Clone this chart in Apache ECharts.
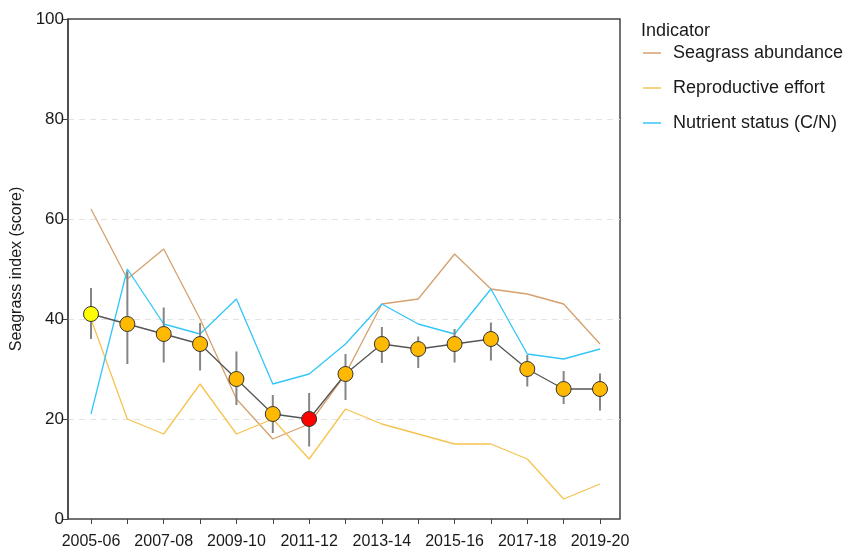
<!DOCTYPE html>
<html>
<head>
<meta charset="utf-8">
<script src="https://cdn.jsdelivr.net/npm/echarts@6/dist/echarts.min.js"></script>
<style>
  html, body { margin: 0; padding: 0; background: #fff; }
  #echarts-main { width: 849px; height: 551px; }
</style>
</head>
<body>
<div id="echarts-main"></div>
<script>
var years = ['2005-06', '2006-07', '2007-08', '2008-09', '2009-10', '2010-11', '2011-12', '2012-13',
	'2013-14', '2014-15', '2015-16', '2016-17', '2017-18', '2018-19', '2019-20'];
var indexScore = [41, 39, 37, 35, 28, 21, 20, 29, 35, 34, 35, 36, 30, 26, 26];
var indexLower = [36, 31, 31.3, 29.7, 22.8, 17.2, 14.5, 23.8, 31.2, 30.2, 31.3, 31.7, 26.5, 23, 21.7];
var indexUpper = [46.2, 49.5, 42.3, 39.2, 33.5, 24.8, 25.2, 33, 38.4, 36.5, 38, 39.3, 32.8, 29.6, 29.1];
var abundance = [62, 48, 54, 40, 24, 16, 19, 29, 43, 44, 53, 46, 45, 43, 35];
var reproductive = [40, 20, 17, 27, 17, 20, 12, 22, 19, 17, 15, 15, 12, 4, 7];
var nutrient = [21, 50, 39, 37, 44, 27, 29, 35, 43, 39, 37, 46, 33, 32, 34];
var yTicks = [0, 20, 40, 60, 80, 100];

var myChart = echarts.init(document.getElementById('echarts-main'));
var font = '"Liberation Sans", Arial, Helvetica, sans-serif';
var colors = ['#d6a06e', '#f6c350', '#33c6f8'];

// grade colour of the overall index marker
function gradeColor(v) {
	if (v > 40) return '#ffff00';
	if (v > 20) return '#ffb900';
	return '#ff0000';
}

var option = {
	animation: false,
	textStyle: { fontFamily: font },
	graphic: [{
		type: 'text',
		left: 641,
		top: 22,
		style: { text: 'Indicator', fontSize: 18, fontFamily: font, fill: '#1a1a1a' }
	}],
	legend: {
		orient: 'vertical',
		left: 643,
		top: 43,
		padding: 0,
		itemGap: 15,
		itemWidth: 18,
		itemHeight: 1.5,
		icon: 'rect',
		data: ['Seagrass abundance', 'Reproductive effort', 'Nutrient status (C/N)'],
		textStyle: { fontSize: 18, color: '#1a1a1a', fontFamily: font, padding: [0, 0, 0, 7], lineHeight: 20 }
	},
	grid: [
		{ left: 68, right: 229, top: 19, bottom: 32, show: true, borderColor: '#444', borderWidth: 1.5 },
		{ left: 91, right: 249, top: 19, bottom: 32 }
	],
	xAxis: [
		{ gridIndex: 0, type: 'value', min: 0, max: 1, show: false },
		{
			gridIndex: 1,
			type: 'category',
			boundaryGap: false,
			data: years,
			axisLine: { show: false },
			axisTick: { show: true, length: 5, interval: 0, lineStyle: { color: '#444' } },
			axisLabel: { interval: 1, fontSize: 16, color: '#1a1a1a', margin: 15, fontFamily: font }
		}
	],
	yAxis: [
		{
			gridIndex: 0,
			type: 'value',
			min: 0,
			max: 100,
			interval: 20,
			name: 'Seagrass index (score)',
			nameLocation: 'middle',
			nameGap: 38,
			nameTextStyle: { fontSize: 16, color: '#1a1a1a', fontFamily: font },
			axisLine: { show: true, lineStyle: { color: '#444', width: 1.5 } },
			axisTick: { show: true, length: 5, lineStyle: { color: '#444' } },
			axisLabel: { fontSize: 17, color: '#1a1a1a', margin: 4, fontFamily: font,
				formatter: function (v) { return yTicks.indexOf(v) >= 0 ? String(v) : ''; } },
			splitLine: { show: true, lineStyle: {
				color: ['rgba(0,0,0,0)', '#e3e3e3', '#e3e3e3', '#e3e3e3', '#e3e3e3', 'rgba(0,0,0,0)'],
				type: [6, 5], width: 1 } }
		},
		{ gridIndex: 1, type: 'value', min: 0, max: 100, show: false }
	],
	series: [
		{
			name: 'Seagrass abundance',
			type: 'line',
			xAxisIndex: 1, yAxisIndex: 1,
			data: abundance,
			symbol: 'none',
			lineStyle: { color: colors[0], width: 1.3 },
			itemStyle: { color: colors[0] },
			z: 2
		},
		{
			name: 'Reproductive effort',
			type: 'line',
			xAxisIndex: 1, yAxisIndex: 1,
			data: reproductive,
			symbol: 'none',
			lineStyle: { color: colors[1], width: 1.3 },
			itemStyle: { color: colors[1] },
			z: 2
		},
		{
			name: 'Nutrient status (C/N)',
			type: 'line',
			xAxisIndex: 1, yAxisIndex: 1,
			data: nutrient,
			symbol: 'none',
			lineStyle: { color: colors[2], width: 1.3 },
			itemStyle: { color: colors[2] },
			z: 2
		},
		{
			name: 'errors',
			type: 'custom',
			xAxisIndex: 1, yAxisIndex: 1,
			data: years.map(function (y, i) { return [i, indexLower[i], indexUpper[i]]; }),
			renderItem: function (params, api) {
				var lo = api.coord([api.value(0), api.value(1)]);
				var hi = api.coord([api.value(0), api.value(2)]);
				return {
					type: 'line',
					shape: { x1: lo[0], y1: lo[1], x2: hi[0], y2: hi[1] },
					style: { stroke: '#858585', lineWidth: 2 }
				};
			},
			z: 3
		},
		{
			name: 'index',
			type: 'line',
			xAxisIndex: 1, yAxisIndex: 1,
			data: indexScore.map(function (v) {
				return { value: v, itemStyle: { color: gradeColor(v) } };
			}),
			symbol: 'circle',
			symbolSize: 15,
			showAllSymbol: true,
			lineStyle: { color: '#555', width: 1.3 },
			itemStyle: { borderColor: '#333', borderWidth: 1 },
			z: 4
		}
	]
};

myChart.setOption(option);
</script>
</body>
</html>
